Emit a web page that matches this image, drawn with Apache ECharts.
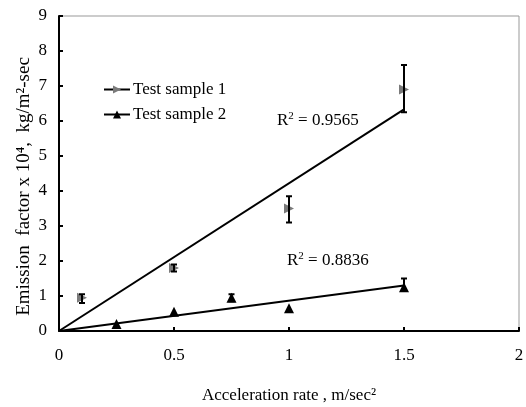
<!DOCTYPE html>
<html><head><meta charset="utf-8">
<script src="https://cdn.jsdelivr.net/npm/echarts@6/dist/echarts.min.js"></script>
<style>html,body{margin:0;padding:0;background:#fff}#c{width:526px;height:407px}</style>
</head><body><div id="c"></div>
<script>
// Test sample 1: [x, mean, low, high]
const s1X = [0.1, 0.5, 1.0, 1.5];
const s1Y = [0.95, 1.8, 3.5, 6.9];
const s1Low = [0.8, 1.7, 3.1, 6.25];
const s1High = [1.05, 1.9, 3.85, 7.6];
// Test sample 2
const s2X = [0.25, 0.5, 0.75, 1.0, 1.5];
const s2Y = [0.2, 0.55, 0.95, 0.65, 1.25];
const s2ErrX = [0.75, 1.5];
const s2Low = [0.85, 1.15];
const s2High = [1.05, 1.5];
// trend lines (through origin)
const trend1 = [[0, 0], [1.5, 6.33]];
const trend2 = [[0, 0], [1.5, 1.3]];
const xTicks = [0, 0.5, 1, 1.5, 2];
const yTicks = [0,1,2,3,4,5,6,7,8,9];
const r2Labels = ['0.9565', '0.8836'];

const FONT = 'Liberation Serif';
const chart = echarts.init(document.getElementById('c'));

function errBar(params, api) {
  const x = api.value(0);
  const p1 = api.coord([x, api.value(1)]);
  const p2 = api.coord([x, api.value(2)]);
  const w = 3;
  const st = { stroke: '#000', lineWidth: 2 };
  return { type: 'group', children: [
    { type: 'line', shape: { x1: p1[0], y1: p1[1], x2: p2[0], y2: p2[1] }, style: st },
    { type: 'line', shape: { x1: p1[0]-w, y1: p1[1], x2: p1[0]+w, y2: p1[1] }, style: st },
    { type: 'line', shape: { x1: p2[0]-w, y1: p2[1], x2: p2[0]+w, y2: p2[1] }, style: st }
  ]};
}
const rich = { t: { fontFamily: FONT, fontSize: 17, fill: '#000' },
               s: { fontFamily: FONT, fontSize: 11, fill: '#000', verticalAlign: 'top', padding: [0,0,9,0] } };

chart.setOption({
  animation: false,
  backgroundColor: '#fff',
  textStyle: { fontFamily: FONT },
  grid: { left: 59, right: 7, top: 16, bottom: 76, show: true, borderColor: '#999', borderWidth: 1,
          containLabel: false, outerBoundsMode: 'none' },
  legend: {
    left: 98, top: 76, orient: 'vertical', itemGap: 8, itemWidth: 26, itemHeight: 10,
    data: ['Test sample 1', 'Test sample 2'],
    textStyle: { fontFamily: FONT, fontSize: 17, color: '#000', padding: [0,0,0,-2] },
    lineStyle: { width: 2, color: '#000', opacity: 1 }
  },
  xAxis: {
    type: 'value', min: 0, max: 2, interval: 0.5,
    axisLine: { lineStyle: { color: '#000', width: 2 } },
    axisTick: { inside: true, length: 4, lineStyle: { color: '#000', width: 2 } },
    axisLabel: { fontFamily: FONT, fontSize: 17, color: '#000', margin: 16,
      formatter: v => xTicks.includes(v) ? String(v) : '' },
    splitLine: { show: false },
    name: 'Acceleration rate , m/sec²', nameLocation: 'middle', nameGap: 56, nameMoveOverlap: false,
    nameTextStyle: { fontFamily: FONT, fontSize: 17, color: '#000' }
  },
  yAxis: {
    type: 'value', min: 0, max: 9, interval: 1,
    axisLine: { lineStyle: { color: '#000', width: 2 } },
    axisTick: { inside: true, length: 4, lineStyle: { color: '#000', width: 2 } },
    axisLabel: { fontFamily: FONT, fontSize: 17, color: '#000', margin: 12,
      formatter: v => yTicks.includes(v) ? String(v) : '' },
    splitLine: { show: false },
    name: 'Emission  factor x 10⁴,  kg/m²-sec', nameLocation: 'middle', nameGap: 25, nameMoveOverlap: false,
    nameTextStyle: { fontFamily: FONT, fontSize: 19, color: '#000', padding: [0, 0, 0, -26] }
  },
  graphic: [
    { type: 'text', left: 277, top: 111, style: { text: '{t|R}{s|2}{t| = ' + r2Labels[0] + '}', rich } },
    { type: 'text', left: 287, top: 251, style: { text: '{t|R}{s|2}{t| = ' + r2Labels[1] + '}', rich } }
  ],
  series: [
    { name: 'trend1', type: 'line', data: trend1, symbol: 'none', lineStyle: { color: '#000', width: 2 }, z: 2 },
    { name: 'trend2', type: 'line', data: trend2, symbol: 'none', lineStyle: { color: '#000', width: 2 }, z: 2 },
    { name: 'Test sample 1', type: 'line', data: s1X.map((x, i) => [x, s1Y[i]]),
      symbol: 'triangle', symbolRotate: -90, symbolSize: 10, showSymbol: true,
      itemStyle: { color: '#7a7a7a' }, lineStyle: { width: 0, opacity: 0 }, z: 3 },
    { name: 'Test sample 2', type: 'line', data: s2X.map((x, i) => [x, s2Y[i]]),
      symbol: 'triangle', symbolSize: 10, showSymbol: true,
      itemStyle: { color: '#000' }, lineStyle: { width: 0, opacity: 0 }, z: 3 },
    { name: 'err1', type: 'custom', renderItem: errBar, data: s1X.map((x, i) => [x, s1Low[i], s1High[i]]), z: 4 },
    { name: 'err2', type: 'custom', renderItem: errBar, data: s2ErrX.map((x, i) => [x, s2Low[i], s2High[i]]), z: 4 }
  ]
});
</script></body></html>
